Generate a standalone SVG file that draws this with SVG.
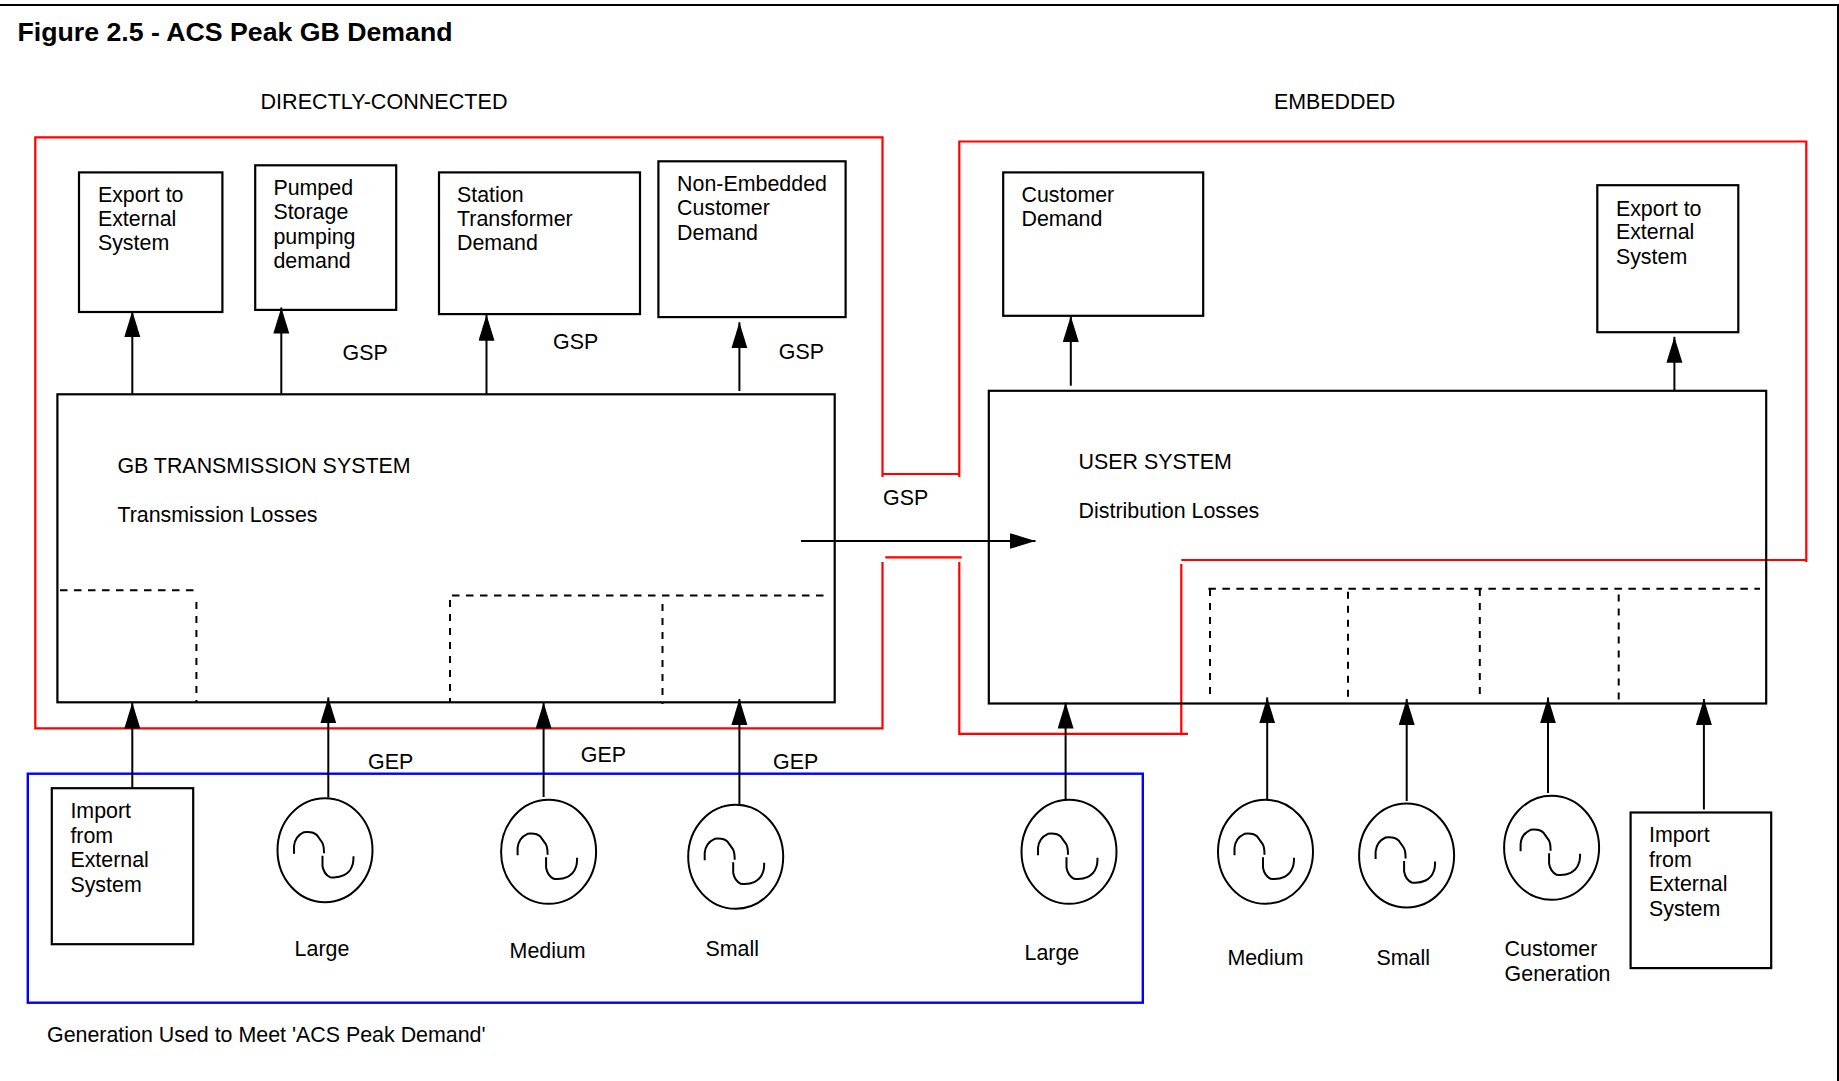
<svg xmlns="http://www.w3.org/2000/svg" width="1839" height="1081" viewBox="0 0 1839 1081">
<style>
text{font-family:"Liberation Sans",Arial,sans-serif;font-size:21.4px;fill:#000}
.title{font-size:26.7px;font-weight:bold}
.box{fill:none;stroke:#000;stroke-width:2.2}
.ln{fill:none;stroke:#000;stroke-width:2}
.red{fill:none;stroke:#f00;stroke-width:2.2}
.blue{fill:none;stroke:#00f;stroke-width:2.4}
.dh{fill:none;stroke:#000;stroke-width:2;stroke-dasharray:7.5 6.5}
.dv{fill:none;stroke:#000;stroke-width:2;stroke-dasharray:7 7}
.gen{fill:none;stroke:#000;stroke-width:2}
</style>
<defs>
<marker id="ah" markerUnits="userSpaceOnUse" markerWidth="27" markerHeight="17" refX="26" refY="8" orient="auto"><path d="M0,0L26,8L0,16z" fill="#000"/></marker>
<g id="g"><ellipse rx="47.5" ry="52"/><path d="M-31,3.5V-4Q-30,-14 -21,-18Q-12,-19 -8,-15L-3,-8Q-1,-5 -1,3M-2.5,5.5V16Q-1,24 5,27Q13,28 19,25Q25,22 27,16Q28.5,13 28.5,6"/></g>
</defs>
<rect width="1839" height="1081" fill="#fff"/>
<g id="frame"><path class="ln" d="M0,5H1838V1081"/></g>
<g id="headings">
<text class="title" x="17.5" y="41">Figure 2.5 - ACS Peak GB Demand</text>
<text x="260.5" y="108.5" textLength="247" lengthAdjust="spacingAndGlyphs">DIRECTLY-CONNECTED</text>
<text x="1274" y="108.5">EMBEDDED</text>
<text x="47" y="1042">Generation Used to Meet 'ACS Peak Demand'</text>
</g>
<g id="regions">
<path class="red" d="M882.5,477V137.3H35.3V728.3H882.5V562"/>
<path class="red" d="M882,474H959.3M959.3,477V141.5H1806.3V562M1806.3,560H1181.3M1181.3,564V733.8H959.3V562M885.3,557.3H961.7M1181.3,733.8H1188"/>
<rect class="blue" x="27.8" y="773.7" width="1115" height="229"/>
</g>
<g id="connectors">
<path class="ln" marker-end="url(#ah)" d="M132.3,394V311"/>
<path class="ln" marker-end="url(#ah)" d="M281.3,394V307.5"/>
<path class="ln" marker-end="url(#ah)" d="M486.5,394V314.7"/>
<path class="ln" marker-end="url(#ah)" d="M739.4,391V322.3"/>
<path class="ln" marker-end="url(#ah)" d="M1070.8,385.7V316"/>
<path class="ln" marker-end="url(#ah)" d="M1674.4,390V336.8"/>
<path class="ln" marker-end="url(#ah)" d="M801,541H1035.5"/>
<path class="ln" marker-end="url(#ah)" d="M132.3,788V702.5"/>
<path class="ln" marker-end="url(#ah)" d="M328.3,797.5V697.4"/>
<path class="ln" marker-end="url(#ah)" d="M543.6,797V702.5"/>
<path class="ln" marker-end="url(#ah)" d="M739.4,804V699"/>
<path class="ln" marker-end="url(#ah)" d="M1065.6,799V702.5"/>
<path class="ln" marker-end="url(#ah)" d="M1267.2,799V697.4"/>
<path class="ln" marker-end="url(#ah)" d="M1406.7,801V699"/>
<path class="ln" marker-end="url(#ah)" d="M1548,793V697.4"/>
<path class="ln" marker-end="url(#ah)" d="M1703.9,809.5V699"/>
<path class="dh" d="M60,590.3H195"/>
<path class="dv" d="M196.4,602V702"/>
<path class="dh" d="M452,595.6H824.5"/>
<path class="dv" d="M450,600V702"/>
<path class="dv" d="M662.5,604V704"/>
<path class="dh" d="M1208.4,588.8H1760"/>
<path class="dv" d="M1210,589V699"/>
<path class="dv" d="M1348,591.7V699"/>
<path class="dv" d="M1479.8,589V695"/>
<path class="dv" d="M1618.7,594.4V701"/>
</g>
<g id="n-export1"><rect class="box" x="79" y="172.4" width="143.4" height="139.6"/><text x="97.9" y="201.6">Export to</text><text x="97.9" y="226">External</text><text x="97.9" y="250.3">System</text></g>
<g id="n-pumped"><rect class="box" x="255.2" y="165.3" width="141" height="144.6"/><text x="273.4" y="195">Pumped</text><text x="273.4" y="219">Storage</text><text x="273.4" y="244">pumping</text><text x="273.4" y="268">demand</text></g>
<g id="n-station"><rect class="box" x="439" y="172.4" width="201" height="141.7"/><text x="457" y="201.6">Station</text><text x="457" y="226">Transformer</text><text x="457" y="250.3">Demand</text></g>
<g id="n-nonemb"><rect class="box" x="658.4" y="161.3" width="187.2" height="155.8"/><text x="677.1" y="191">Non-Embedded</text><text x="677.1" y="215">Customer</text><text x="677.1" y="240">Demand</text></g>
<g id="n-gb"><rect class="box" x="57.4" y="394.3" width="777.3" height="308"/><text x="117.4" y="473">GB TRANSMISSION SYSTEM</text><text x="117.4" y="522">Transmission Losses</text></g>
<g id="n-custdemand"><rect class="box" x="1003.2" y="172.4" width="200" height="143.4"/><text x="1021.5" y="201.6">Customer</text><text x="1021.5" y="226">Demand</text></g>
<g id="n-export2"><rect class="box" x="1597.3" y="185.2" width="141" height="147"/><text x="1615.9" y="215.6">Export to</text><text x="1615.9" y="239">External</text><text x="1615.9" y="264">System</text></g>
<g id="n-user"><rect class="box" x="988.8" y="390.8" width="777.4" height="312.7"/><text x="1078.6" y="469">USER SYSTEM</text><text x="1078.6" y="518">Distribution Losses</text></g>
<g id="n-import1"><rect class="box" x="51.8" y="788.2" width="141.4" height="156"/><text x="70.4" y="818">Import</text><text x="70.4" y="842.6">from</text><text x="70.4" y="866.7">External</text><text x="70.4" y="892">System</text></g>
<g id="n-import2"><rect class="box" x="1630.6" y="812.5" width="140.6" height="155.6"/><text x="1649" y="842">Import</text><text x="1649" y="867">from</text><text x="1649" y="891">External</text><text x="1649" y="916">System</text></g>
<g id="n-g1"><use class="gen" href="#g" x="325" y="850.2"/><text x="294.6" y="956">Large</text></g>
<g id="n-g2"><use class="gen" href="#g" x="548.6" y="851.8"/><text x="509.6" y="958.4">Medium</text></g>
<g id="n-g3"><use class="gen" href="#g" x="735.7" y="856.8"/><text x="705.5" y="956">Small</text></g>
<g id="n-g4"><use class="gen" href="#g" x="1069" y="851.8"/><text x="1024.5" y="960.4">Large</text></g>
<g id="n-g5"><use class="gen" href="#g" x="1265.5" y="851.8"/><text x="1227.4" y="965">Medium</text></g>
<g id="n-g6"><use class="gen" href="#g" x="1406.6" y="855.5"/><text x="1376.5" y="965">Small</text></g>
<g id="n-g7"><use class="gen" href="#g" x="1551.6" y="847.8"/><text x="1504.6" y="955.6">Customer</text><text x="1504.6" y="981">Generation</text></g>
<g id="labels">
<text x="342.5" y="360">GSP</text><text x="553" y="349">GSP</text><text x="778.8" y="359">GSP</text><text x="883" y="505">GSP</text>
<text x="368" y="768.5">GEP</text><text x="580.8" y="761.5">GEP</text><text x="773" y="768.5">GEP</text>
</g>
</svg>
